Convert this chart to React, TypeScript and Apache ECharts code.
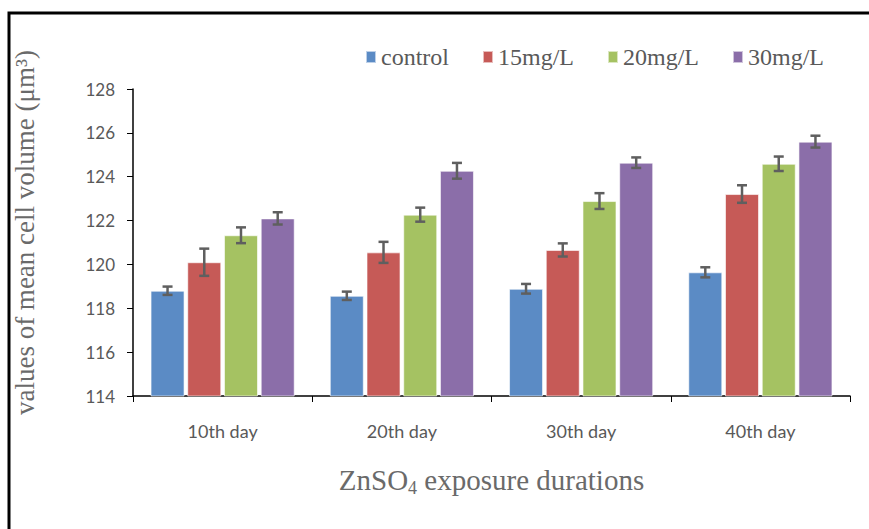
import React, { useEffect, useRef } from "react";
import * as echarts from "echarts";

const categories = ["10th day", "20th day", "30th day", "40th day"];
const seriesNames = ["control", "15mg/L", "20mg/L", "30mg/L"];
const controlVals = [118.8, 118.57, 118.89, 119.64];
const mg15Vals = [120.1, 120.55, 120.66, 123.21];
const mg20Vals = [121.33, 122.27, 122.89, 124.59];
const mg30Vals = [122.1, 124.27, 124.64, 125.6];
const controlErr = [0.19, 0.19, 0.22, 0.23];
const mg15Err = [0.62, 0.48, 0.3, 0.4];
const mg20Err = [0.36, 0.32, 0.36, 0.33];
const mg30Err = [0.28, 0.36, 0.24, 0.27];
const colors = ["#5B8BC5", "#C65A57", "#A5C262", "#8B6EA9"];

const BAR_W = 34;
const BAR_GAP = 0.08;
const SERIF = "'Liberation Serif', 'DejaVu Serif', serif";

export default function App() {
  const ref = useRef<HTMLDivElement>(null);
  useEffect(() => {
    document.body.style.margin = "0";
    if (!ref.current) return;
    const chart = echarts.init(ref.current, null, { renderer: "svg" });
    const values = [controlVals, mg15Vals, mg20Vals, mg30Vals];
    const errs = [controlErr, mg15Err, mg20Err, mg30Err];
    const barSeries = seriesNames.map((name, i) => ({
      name,
      type: "bar",
      data: values[i],
      barWidth: BAR_W,
      barGap: BAR_GAP * 100 + "%",
      itemStyle: { color: colors[i], borderColor: "rgba(255,255,255,0.6)", borderWidth: 1 },
      z: 2,
    }));
    const errSeries = seriesNames.map((name, i) => ({
      name: name + "_err",
      type: "custom",
      z: 5,
      data: values[i].map((v, j) => [j, v - errs[i][j], v + errs[i][j]]),
      renderItem: (params: any, api: any) => {
        const j = api.value(0);
        const lo = api.coord([j, api.value(1)]);
        const hi = api.coord([j, api.value(2)]);
        const step = BAR_W * (1 + BAR_GAP);
        const x = lo[0] + (i - 1.5) * step;
        const half = 5;
        const style = { stroke: "#5f5f5f", lineWidth: 2.5 };
        return {
          type: "group",
          children: [
            { type: "line", shape: { x1: x, y1: lo[1], x2: x, y2: hi[1] }, style },
            { type: "line", shape: { x1: x - half, y1: lo[1], x2: x + half, y2: lo[1] }, style },
            { type: "line", shape: { x1: x - half, y1: hi[1], x2: x + half, y2: hi[1] }, style },
          ],
        };
      },
    }));
    chart.setOption({
      animation: false,
      backgroundColor: "#fff",
      legend: {
        data: seriesNames,
        left: 360,
        top: 40,
        itemWidth: 10,
        itemHeight: 12,
        itemGap: 33,
        icon: "rect",
        textStyle: { fontFamily: SERIF, fontSize: 24, color: "#595959", fontWeight: "normal" },
      },
      grid: { left: 133, right: 19, top: 89, bottom: 133 },
      xAxis: {
        type: "category",
        data: categories,
        name: "ZnSO{sub|4} exposure durations",
        nameLocation: "middle",
        nameGap: 67,
        nameTextStyle: {
          fontFamily: SERIF,
          fontSize: 29,
          color: "#6a6a6a",
          rich: {
            sub: { fontFamily: SERIF, fontSize: 18, color: "#6a6a6a", padding: [16, 0, 0, 0] },
          },
        },
        axisLine: { lineStyle: { color: "#000", width: 1.5 } },
        axisTick: { show: true, length: 6, lineStyle: { color: "#000" } },
        axisLabel: { fontFamily: "Lato", fontSize: 18, color: "#595959", margin: 26 },
      },
      yAxis: {
        type: "value",
        min: 114,
        max: 128,
        interval: 2,
        name: "values of mean cell volume (μm³)",
        nameLocation: "middle",
        nameGap: 95,
        nameTextStyle: { fontFamily: SERIF, fontSize: 27, color: "#6a6a6a", padding: [0, 0, 0, 20] },
        axisLine: { show: true, lineStyle: { color: "#000", width: 1.5 } },
        axisTick: { show: true, length: 6, lineStyle: { color: "#000" } },
        splitLine: { show: false },
        axisLabel: { fontFamily: "Lato", fontSize: 17, color: "#595959", margin: 18 },
      },
      graphic: [
        {
          type: "rect",
          shape: { x: 9, y: 13, width: 900, height: 600 },
          style: { fill: "none", stroke: "#000", lineWidth: 3 },
          z: 10,
        },
      ],
      series: [...barSeries, ...errSeries],
    });
    return () => chart.dispose();
  }, []);
  return <div ref={ref} style={{ width: 869, height: 529 }} />;
}
